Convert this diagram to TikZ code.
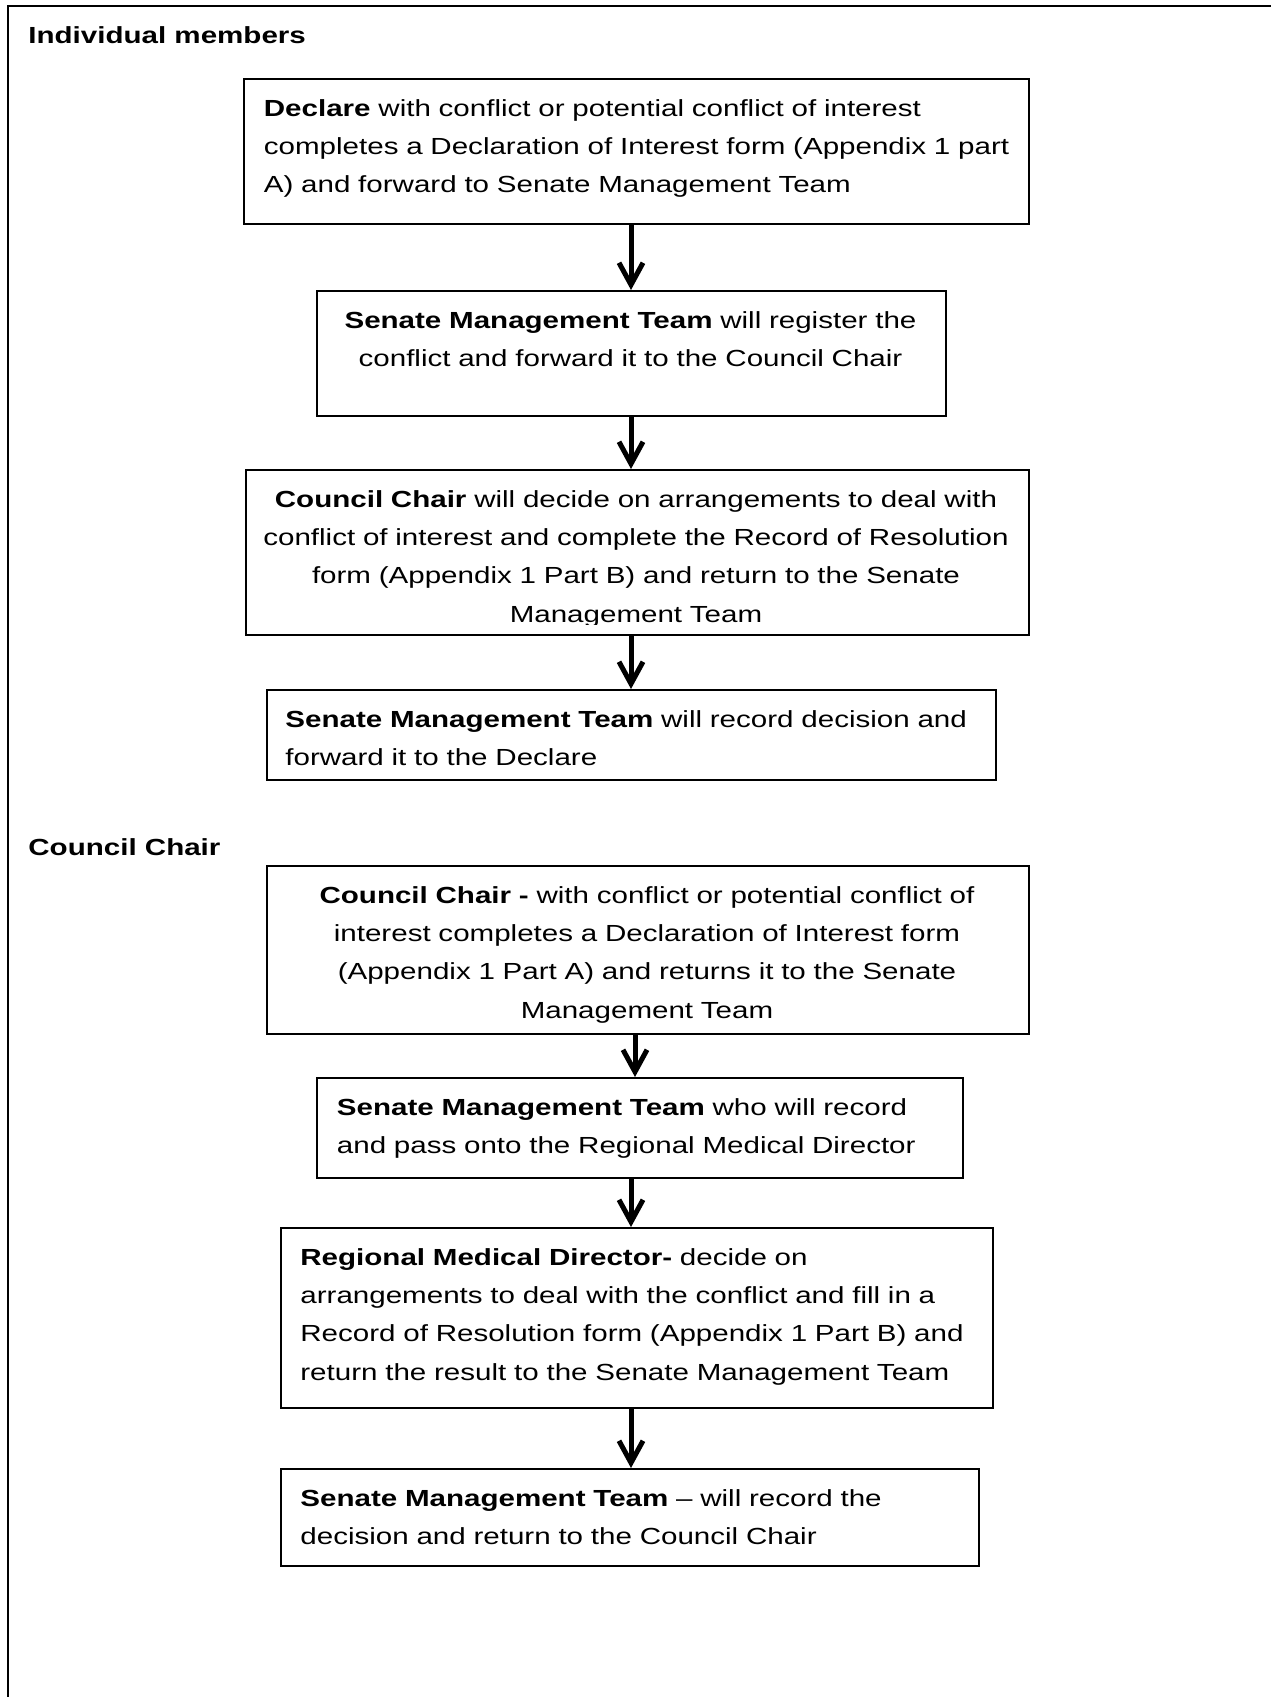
\documentclass[tikz,border=0pt]{standalone}
\usepackage{fontspec}
\setmainfont{Liberation Sans}[FakeStretch=1.268]
\usetikzlibrary{arrows.meta}
\newcommand\boxnode[5]{\node[boxst, anchor=north west, minimum width={(#4-#2)*0.5pt}, minimum height={(#5-#3)*0.5pt}] (#1) at (#2,#3) {};}
\begin{document}
\begin{tikzpicture}[x=0.5pt, y=-0.5pt,
  boxst/.style={draw, line width=1pt, rectangle, inner sep=0pt},
  txt/.style={inner sep=0pt, text width=700pt, font=\fontsize{11.65pt}{19.17pt}\selectfont},
  ltxt/.style={txt, align=left, anchor=base west},
  ctxt/.style={txt, align=center, anchor=base},
  head/.style={inner sep=0pt, anchor=base west, font=\fontsize{11.65pt}{19.17pt}\selectfont\bfseries},
  arr/.style={line width=2.5pt, -{Straight Barb[length=11pt,width=12pt]}}]
\useasboundingbox (0,0) rectangle (1271,1697);
% outer frame (right and bottom sides lie outside the page)
\draw[line width=1pt] (8,1697) -- (8,5.7) -- (1271,5.7);

% headings
\node[head] (h1) at (28,43.5) {Individual members};
\node[head] (h2) at (28,855) {Council Chair};

% boxes
\boxnode{b1}{243}{78}{1028}{223}
\boxnode{b2}{316}{290}{945}{415}
\boxnode{b3}{245}{469}{1028}{634}
\boxnode{b4}{266}{689}{995}{779}
\boxnode{b5}{266}{865}{1028}{1033}
\boxnode{b6}{316}{1077}{962}{1177}
\boxnode{b7}{280}{1227}{992}{1407}
\boxnode{b8}{280}{1468}{978}{1565}

% texts
\node[ltxt] (t1) at (263.5,116) {\textbf{Declare} with conflict or potential conflict of interest\\completes a Declaration of Interest form (Appendix 1 part\\A) and forward to Senate Management Team};
\node[ctxt] (t2) at (630.5,328) {\textbf{Senate Management Team} will register the\\conflict and forward it to the Council Chair};
\begin{scope}
\clip (245,469) rectangle (1028,624.5);
\node[ctxt] (t3) at (636,507) {\textbf{Council Chair} will decide on arrangements to deal with\\conflict of interest and complete the Record of Resolution\\form (Appendix 1 Part B) and return to the Senate\\Management Team};
\end{scope}
\node[ltxt] (t4) at (285,727) {\textbf{Senate Management Team} will record decision and\\forward it to the Declare};
\begin{scope}
\clip (266,865) rectangle (1028,1023);
\node[ctxt] (t5) at (647,903) {\textbf{Council Chair -} with conflict or potential conflict of\\interest completes a Declaration of Interest form\\(Appendix 1 Part A) and returns it to the Senate\\Management Team};
\end{scope}
\node[ltxt] (t6) at (336.5,1115) {\textbf{Senate Management Team} who will record\\and pass onto the Regional Medical Director};
\node[ltxt] (t7) at (300,1265) {\textbf{Regional Medical Director-} decide on\\arrangements to deal with the conflict and fill in a\\Record of Resolution form (Appendix 1 Part B) and\\return the result to the Senate Management Team};
\node[ltxt] (t8) at (300,1506) {\textbf{Senate Management Team} – will record the\\decision and return to the Council Chair};

% arrow columns
\coordinate (xa) at (631,0);
\coordinate (xb) at (635,0);
\draw[arr] (b1.south -| xa) -- (b2.north -| xa);
\draw[arr] (b2.south -| xa) -- (b3.north -| xa);
\draw[arr] (b3.south -| xa) -- (b4.north -| xa);
\draw[arr] (b5.south -| xb) -- (b6.north -| xb);
\draw[arr] (b6.south -| xa) -- (b7.north -| xa);
\draw[arr] (b7.south -| xa) -- (b8.north -| xa);
\end{tikzpicture}
\end{document}
